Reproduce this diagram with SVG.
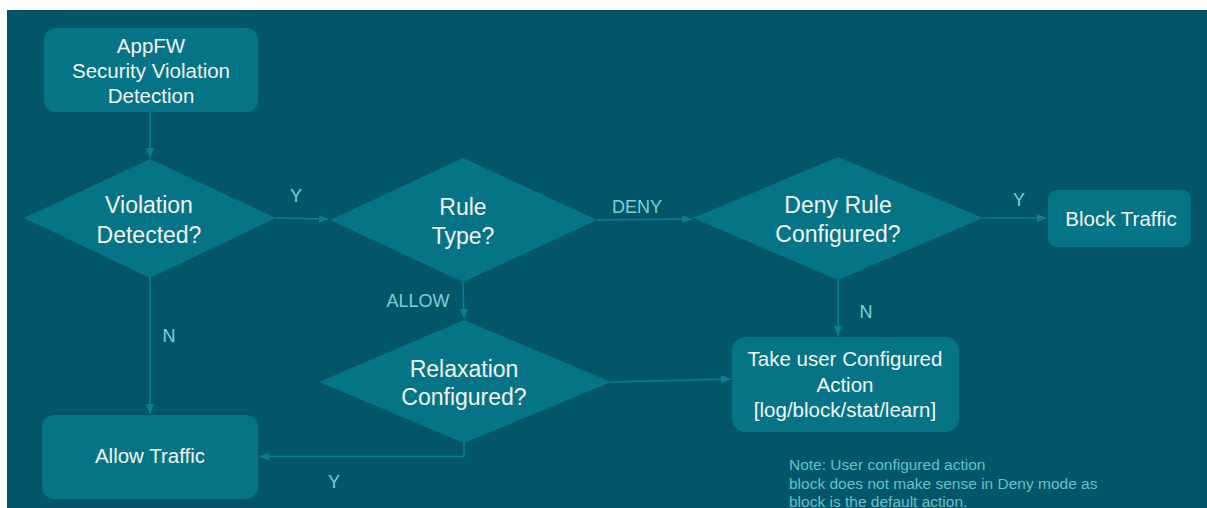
<svg xmlns="http://www.w3.org/2000/svg" width="1207" height="508" viewBox="0 0 1207 508">
<defs>
<marker id="ah" markerWidth="10" markerHeight="8" refX="10" refY="4" orient="auto" markerUnits="userSpaceOnUse">
<path d="M0,0 L10,4 L0,8 Z" fill="#0b7d92"/>
</marker>
<style>
.node{fill:#067487;}
.t{font-family:"Liberation Sans",Arial,sans-serif;fill:#f2f4f4;text-anchor:middle;}
.t20{font-size:20.5px;}
.t23{font-size:23px;}
.lbl{font-family:"Liberation Sans",Arial,sans-serif;font-size:18px;fill:#7cd0d6;text-anchor:middle;}
.note{font-family:"Liberation Sans",Arial,sans-serif;font-size:15.5px;fill:#62c2c9;}
.c{fill:none;stroke:#0b7d92;stroke-width:1.5;marker-end:url(#ah);}
</style>
</defs>
<rect x="0" y="0" width="1207" height="508" fill="#ffffff"/>
<rect x="7" y="10" width="1200" height="498" fill="#03566a"/>

<g id="connectors">
<path class="c" d="M150,112 L150,158"/>
<path class="c" d="M276,218 L329,219"/>
<path class="c" d="M597,220 L692,219"/>
<path class="c" d="M983,218 L1047,218"/>
<path class="c" d="M463,282 L464,319"/>
<path class="c" d="M838,280 L838,336"/>
<path class="c" d="M611,382 L731,379"/>
<path class="c" d="M150,278 L150,414"/>
<path class="c" d="M464,443 L464,456.5 L259,456.5"/>
<text class="lbl" x="296" y="202">Y</text>
<text class="lbl" x="637" y="213">DENY</text>
<text class="lbl" x="1019" y="206">Y</text>
<text class="lbl" x="418" y="307">ALLOW</text>
<text class="lbl" x="866" y="318">N</text>
<text class="lbl" x="169" y="342">N</text>
<text class="lbl" x="334" y="488">Y</text>
</g>

<g id="appfw">
<rect class="node" x="44" y="28" width="214" height="84" rx="12"/>
<text class="t t20" x="151" y="53">AppFW</text>
<text class="t t20" x="151" y="78">Security Violation</text>
<text class="t t20" x="151" y="103">Detection</text>
</g>

<g id="violation">
<polygon class="node" points="24,218 150,159 276,218 150,278"/>
<text class="t t23" x="149" y="213">Violation</text>
<text class="t t23" x="149" y="243">Detected?</text>
</g>

<g id="ruletype">
<polygon class="node" points="330,220 463,158 597,220 463,282"/>
<text class="t t23" x="463" y="215">Rule</text>
<text class="t t23" x="463" y="244">Type?</text>
</g>

<g id="denyrule">
<polygon class="node" points="693,218 838,157 983,218 838,280"/>
<text class="t t23" x="838" y="213">Deny Rule</text>
<text class="t t23" x="838" y="242">Configured?</text>
</g>

<g id="block">
<rect class="node" x="1048" y="190" width="143" height="57" rx="9"/>
<text class="t t20" x="1121" y="226">Block Traffic</text>
</g>

<g id="relaxation">
<polygon class="node" points="319,382 464,320 611,382 464,443"/>
<text class="t t23" x="464" y="377">Relaxation</text>
<text class="t t23" x="464" y="405">Configured?</text>
</g>

<g id="useraction">
<rect class="node" x="732" y="337" width="227" height="95" rx="14"/>
<text class="t t20" x="845" y="366">Take user Configured</text>
<text class="t t20" x="845" y="392">Action</text>
<text class="t t20" x="845" y="417">[log/block/stat/learn]</text>
</g>

<g id="allow">
<rect class="node" x="42" y="415" width="216" height="84" rx="12"/>
<text class="t t20" x="150" y="463">Allow Traffic</text>
</g>

<g id="note">
<text class="note" x="789" y="470">Note: User configured action</text>
<text class="note" x="789" y="489">block does not make sense in Deny mode as</text>
<text class="note" x="789" y="507">block is the default action.</text>
</g>
</svg>
